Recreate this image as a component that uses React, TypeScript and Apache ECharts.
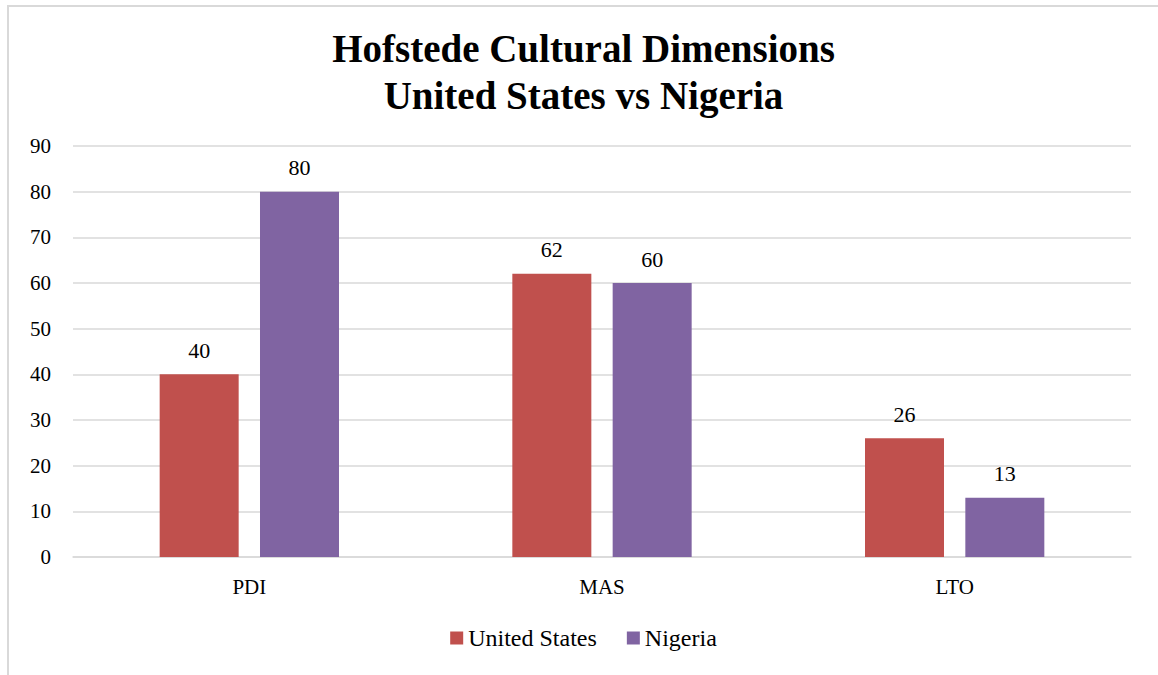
import React, { useEffect, useRef } from "react";
import * as echarts from "echarts";

const categories = ["PDI", "MAS", "LTO"];
const unitedStates = [40, 62, 26];
const nigeria = [80, 60, 13];
const seriesNames = ["United States", "Nigeria"];

const FONT = "'Liberation Serif', 'DejaVu Serif', serif";

export default function App() {
  const ref = useRef<HTMLDivElement>(null);
  useEffect(() => {
    const chart = echarts.init(ref.current!, null, { renderer: "svg" });
    chart.setOption({
      animation: false,
      backgroundColor: "#ffffff",
      textStyle: { fontFamily: FONT },
      title: {
        text: "Hofstede Cultural Dimensions\nUnited States vs Nigeria",
        left: "center",
        top: 13,
        textStyle: {
          fontFamily: FONT,
          fontSize: 39,
          fontWeight: "bold",
          color: "#000000",
          lineHeight: 47,
        },
      },
      legend: {
        bottom: 20,
        left: "center",
        itemWidth: 13,
        itemHeight: 13,
        itemGap: 30,
        icon: "rect",
        textStyle: { fontFamily: FONT, fontSize: 24, color: "#000000" },
        data: seriesNames,
      },
      grid: { left: 64, right: 27, top: 139, bottom: 118, containLabel: false },
      xAxis: {
        type: "category",
        data: categories,
        axisLine: { lineStyle: { color: "#d9d9d9", width: 1.5 } },
        axisTick: { show: false },
        axisLabel: { fontFamily: FONT, fontSize: 21, color: "#000000", margin: 19 },
      },
      yAxis: {
        type: "value",
        min: 0,
        max: 90,
        interval: 10,
        axisLine: { show: false },
        axisTick: { show: false },
        splitLine: { lineStyle: { color: "#d9d9d9", width: 1.5 } },
        axisLabel: { fontFamily: FONT, fontSize: 21, color: "#000000", margin: 22 },
      },
      series: [
        {
          name: seriesNames[0],
          type: "bar",
          data: unitedStates,
          barWidth: 79,
          barGap: "27%",
          itemStyle: { color: "#C0504D" },
          label: { show: true, position: "top", distance: 13, fontFamily: FONT, fontSize: 22, color: "#000000" },
        },
        {
          name: seriesNames[1],
          type: "bar",
          data: nigeria,
          barWidth: 79,
          barGap: "27%",
          itemStyle: { color: "#8064A2" },
          label: { show: true, position: "top", distance: 13, fontFamily: FONT, fontSize: 22, color: "#000000" },
        },
      ],
    });
    return () => chart.dispose();
  }, []);
  return (
    <div
      style={{
        position: "absolute",
        left: 7,
        top: 5,
        borderLeft: "2px solid #d9d9d9",
        borderTop: "2px solid #d9d9d9",
        background: "#ffffff",
      }}
    >
      <div ref={ref} style={{ width: 1149, height: 668 }} />
    </div>
  );
}
